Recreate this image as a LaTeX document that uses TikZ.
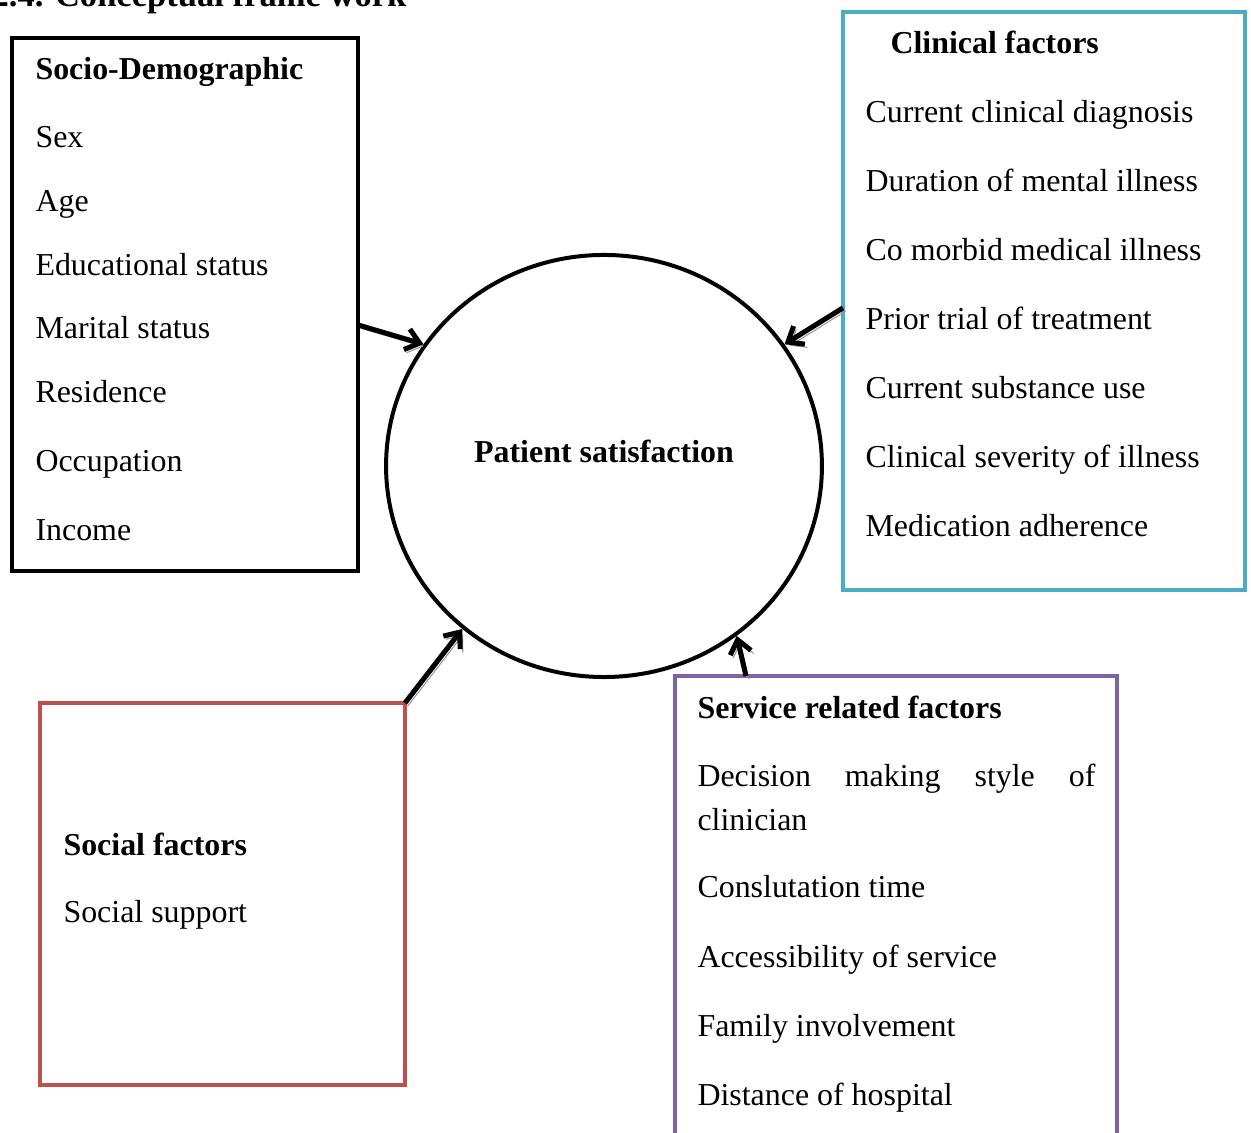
\documentclass[tikz,border=0pt]{standalone}
\usepackage{fontspec}
\setmainfont{Liberation Serif}
\usepackage{xcolor}
\definecolor{turquoise}{HTML}{4BACC6}
\definecolor{brique}{HTML}{C0504D}
\definecolor{lavande}{HTML}{8064A2}
\usetikzlibrary{arrows.meta,shapes.geometric}

\begin{document}
\begin{tikzpicture}[x=0.376pt,y=-0.376pt,
  cadre/.style={draw,line width=1.5pt,inner sep=0pt,outer sep=0pt},
  ligne/.style={anchor=base west,inner sep=0pt,font=\fontsize{12}{16.2}\selectfont},
  titre/.style={ligne,font=\fontsize{12}{16.2}\selectfont\bfseries},
  fleche/.style={line width=1.9pt,-{Straight Barb[length=5pt,width=8pt]},
    preaction={draw=black!40,transform canvas={xshift=1pt,yshift=-1.2pt}}}
]
\useasboundingbox (0,0) rectangle (1251,1133);
\clip (0,0) rectangle (1251,1133);
\node[titre,anchor=base east,font=\fontsize{13}{15}\selectfont\bfseries] (entete) at (407,7) {2.4. Conceptual frame work};
% les cadres
\node[cadre,minimum width=130.1pt,minimum height=200.4pt] (socio) at (185,304.5) {};
\node[cadre,draw=turquoise,minimum width=151.2pt,minimum height=217.3pt] (clin) at (1044,301) {};
\node[cadre,draw=brique,minimum width=137.2pt,minimum height=143.6pt] (soc) at (222.5,894) {};
\node[cadre,draw=lavande,minimum width=166.2pt,minimum height=182pt] (serv) at (896,918) {};
\node[draw,ellipse,line width=1.5pt,minimum width=163.9pt,minimum height=158.7pt,inner sep=0pt] (sat) at (604,466) {};
\node[titre,anchor=base] (satlab) at (604,463) {Patient satisfaction};
% textes
\node[titre] (sociot) at (35,80) {Socio-Demographic};
\foreach \txt/\yy [count=\i] in {Sex/148,Age/212,Educational status/276,Marital status/339,Residence/403,Occupation/472,Income/541}
  \node[ligne] (socio\i) at (35,\yy) {\txt};
\node[titre] (clint) at (890,54) {Clinical factors};
\foreach \txt/\yy [count=\i] in {Current clinical diagnosis/123,Duration of mental illness/192,Co morbid medical illness/261,Prior trial of treatment/330,Current substance use/399,Clinical severity of illness/468,Medication adherence/537}
  \node[ligne] (clin\i) at (865,\yy) {\txt};
\node[titre] (soct) at (63,856) {Social factors};
\node[ligne] (soc1) at (63,923) {Social support};
\node[titre] (servt) at (697,719) {Service related factors};
\node[ligne,text width=149.6pt,align=justify] (serv1) at (697,787) {\tolerance=10000 Decision making style of \mbox{clinician}};
\foreach \txt/\yy [count=\i from 2] in {Conslutation time/898,Accessibility of service/968,Family involvement/1037,Distance of hospital/1106}
  \node[ligne] (serv\i) at (697,\yy) {\txt};
% fleches
\draw[fleche] ([yshift=-7.7pt]socio.east) -- (sat.146);
\draw[fleche] ([yshift=-2.6pt]clin.west) -- (sat.34);
\draw[fleche] (soc.north east) -- (sat.229);
\draw[fleche] ([xshift=26.7pt]serv.north west) -- (sat.308);
\end{tikzpicture}
\end{document}
